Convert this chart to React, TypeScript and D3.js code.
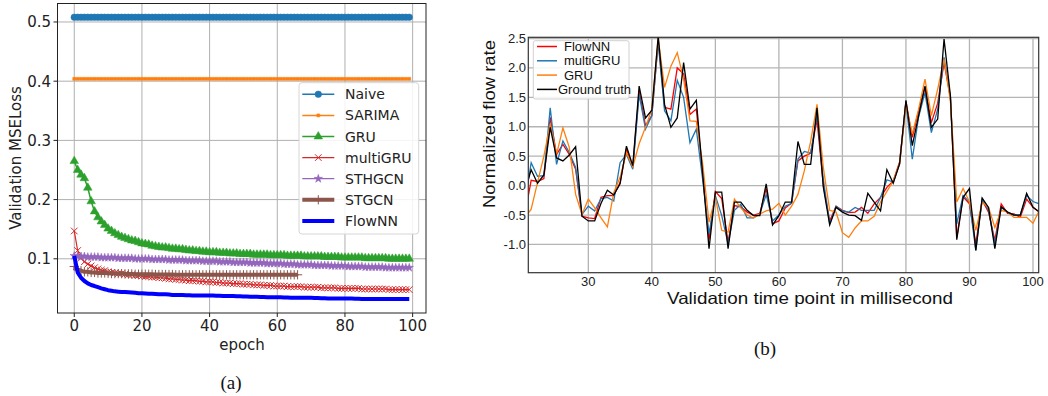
import React from "react";
import * as d3 from "d3";

// ---- (a) validation loss per epoch ----
const naive = [
  0.508, 0.508, 0.508, 0.508, 0.508, 0.508, 0.508, 0.508, 0.508, 0.508,
  0.508, 0.508, 0.508, 0.508, 0.508, 0.508, 0.508, 0.508, 0.508, 0.508,
  0.508, 0.508, 0.508, 0.508, 0.508, 0.508, 0.508, 0.508, 0.508, 0.508,
  0.508, 0.508, 0.508, 0.508, 0.508, 0.508, 0.508, 0.508, 0.508, 0.508,
  0.508, 0.508, 0.508, 0.508, 0.508, 0.508, 0.508, 0.508, 0.508, 0.508,
  0.508, 0.508, 0.508, 0.508, 0.508, 0.508, 0.508, 0.508, 0.508, 0.508,
  0.508, 0.508, 0.508, 0.508, 0.508, 0.508, 0.508, 0.508, 0.508, 0.508,
  0.508, 0.508, 0.508, 0.508, 0.508, 0.508, 0.508, 0.508, 0.508, 0.508,
  0.508, 0.508, 0.508, 0.508, 0.508, 0.508, 0.508, 0.508, 0.508, 0.508,
  0.508, 0.508, 0.508, 0.508, 0.508, 0.508, 0.508, 0.508, 0.508, 0.508,
];
const sarima = [
  0.404, 0.404, 0.404, 0.404, 0.404, 0.404, 0.404, 0.404, 0.404, 0.404,
  0.404, 0.404, 0.404, 0.404, 0.404, 0.404, 0.404, 0.404, 0.404, 0.404,
  0.404, 0.404, 0.404, 0.404, 0.404, 0.404, 0.404, 0.404, 0.404, 0.404,
  0.404, 0.404, 0.404, 0.404, 0.404, 0.404, 0.404, 0.404, 0.404, 0.404,
  0.404, 0.404, 0.404, 0.404, 0.404, 0.404, 0.404, 0.404, 0.404, 0.404,
  0.404, 0.404, 0.404, 0.404, 0.404, 0.404, 0.404, 0.404, 0.404, 0.404,
  0.404, 0.404, 0.404, 0.404, 0.404, 0.404, 0.404, 0.404, 0.404, 0.404,
  0.404, 0.404, 0.404, 0.404, 0.404, 0.404, 0.404, 0.404, 0.404, 0.404,
  0.404, 0.404, 0.404, 0.404, 0.404, 0.404, 0.404, 0.404, 0.404, 0.404,
  0.404, 0.404, 0.404, 0.404, 0.404, 0.404, 0.404, 0.404, 0.404, 0.404,
];
const gru = [
  0.265, 0.25, 0.242, 0.236, 0.22, 0.197, 0.18, 0.17, 0.163, 0.157,
  0.151, 0.147, 0.143, 0.14, 0.137, 0.135, 0.133, 0.131, 0.13, 0.128,
  0.126, 0.125, 0.124, 0.122, 0.121, 0.12, 0.119, 0.119, 0.118, 0.117,
  0.117, 0.116, 0.116, 0.115, 0.114, 0.114, 0.113, 0.113, 0.112, 0.112,
  0.111, 0.111, 0.111, 0.11, 0.11, 0.11, 0.109, 0.109, 0.109, 0.108,
  0.108, 0.108, 0.108, 0.107, 0.107, 0.107, 0.107, 0.107, 0.106, 0.106,
  0.106, 0.106, 0.106, 0.105, 0.105, 0.105, 0.105, 0.105, 0.104, 0.104,
  0.104, 0.104, 0.104, 0.104, 0.103, 0.103, 0.103, 0.103, 0.103, 0.102,
  0.102, 0.102, 0.102, 0.102, 0.102, 0.102, 0.101, 0.101, 0.101, 0.101,
  0.101, 0.101, 0.101, 0.1, 0.1, 0.1, 0.1, 0.1, 0.1, 0.1,
];
const multiGru = [
  0.147, 0.114, 0.101, 0.095, 0.091, 0.088, 0.085, 0.083, 0.081, 0.08,
  0.078, 0.077, 0.076, 0.075, 0.075, 0.074, 0.073, 0.073, 0.072, 0.072,
  0.071, 0.07, 0.07, 0.069, 0.069, 0.068, 0.068, 0.067, 0.066, 0.066,
  0.065, 0.065, 0.064, 0.064, 0.063, 0.063, 0.063, 0.062, 0.062, 0.061,
  0.061, 0.061, 0.06, 0.06, 0.059, 0.059, 0.059, 0.058, 0.058, 0.058,
  0.057, 0.057, 0.057, 0.056, 0.056, 0.056, 0.055, 0.055, 0.055, 0.054,
  0.054, 0.054, 0.054, 0.053, 0.053, 0.053, 0.053, 0.053, 0.052, 0.052,
  0.052, 0.052, 0.052, 0.051, 0.051, 0.051, 0.051, 0.051, 0.05, 0.05,
  0.05, 0.05, 0.05, 0.05, 0.05, 0.049, 0.049, 0.049, 0.049, 0.049,
  0.049, 0.049, 0.049, 0.048, 0.048, 0.048, 0.048, 0.048, 0.048, 0.048,
];
const sthgcn = [
  0.105, 0.104, 0.104, 0.104, 0.103, 0.103, 0.103, 0.103, 0.102, 0.102,
  0.102, 0.102, 0.102, 0.101, 0.101, 0.101, 0.101, 0.101, 0.1, 0.1,
  0.1, 0.1, 0.1, 0.099, 0.099, 0.099, 0.099, 0.099, 0.098, 0.098,
  0.098, 0.098, 0.098, 0.097, 0.097, 0.097, 0.097, 0.097, 0.096, 0.096,
  0.096, 0.096, 0.096, 0.095, 0.095, 0.095, 0.095, 0.094, 0.094, 0.094,
  0.094, 0.094, 0.093, 0.093, 0.093, 0.093, 0.093, 0.092, 0.092, 0.092,
  0.092, 0.092, 0.091, 0.091, 0.091, 0.091, 0.09, 0.09, 0.09, 0.09,
  0.09, 0.089, 0.089, 0.089, 0.089, 0.089, 0.088, 0.088, 0.088, 0.088,
  0.088, 0.087, 0.087, 0.087, 0.087, 0.087, 0.086, 0.086, 0.086, 0.086,
  0.086, 0.086, 0.085, 0.085, 0.085, 0.085, 0.085, 0.085, 0.085, 0.085,
];
const stgcn = [
  0.087, 0.082, 0.08, 0.078, 0.078, 0.077, 0.077, 0.076, 0.076, 0.076,
  0.0755, 0.075, 0.075, 0.075, 0.075, 0.0745, 0.0745, 0.0745, 0.074, 0.074,
  0.074, 0.074, 0.074, 0.074, 0.0735, 0.0735, 0.0735, 0.0735, 0.0735, 0.0735,
  0.073, 0.073, 0.073, 0.073, 0.073, 0.073, 0.073, 0.073, 0.073, 0.073,
  0.073, 0.073, 0.073, 0.073, 0.073, 0.073, 0.073, 0.073, 0.073, 0.073,
  0.073, 0.073, 0.073, 0.073, 0.073, 0.073, 0.073, 0.073, 0.073, 0.073,
  0.073, 0.073, 0.073, 0.073, 0.073, 0.073, 0.073,
];
const flowNN = [
  0.105, 0.077, 0.068, 0.0625, 0.0585, 0.0557, 0.054, 0.052, 0.05, 0.0485,
  0.047, 0.046, 0.045, 0.0445, 0.044, 0.044, 0.0435, 0.043, 0.0425, 0.042,
  0.042, 0.0415, 0.041, 0.041, 0.0405, 0.04, 0.04, 0.04, 0.0395, 0.039,
  0.039, 0.039, 0.0388, 0.0386, 0.0384, 0.0382, 0.038, 0.038, 0.038, 0.038,
  0.038, 0.0378, 0.0376, 0.0374, 0.0372, 0.037, 0.037, 0.037, 0.0368, 0.0366,
  0.0364, 0.0362, 0.036, 0.036, 0.0358, 0.0356, 0.0354, 0.0352, 0.035, 0.035,
  0.035, 0.035, 0.0348, 0.0346, 0.0344, 0.0342, 0.034, 0.034, 0.034, 0.034,
  0.034, 0.0338, 0.0336, 0.0334, 0.0332, 0.033, 0.033, 0.033, 0.033, 0.033,
  0.033, 0.033, 0.0328, 0.0326, 0.0324, 0.0322, 0.032, 0.032, 0.032, 0.032,
  0.032, 0.032, 0.032, 0.032, 0.032, 0.032, 0.032, 0.032, 0.032, 0.032,
];
const lossTicksX = [0, 20, 40, 60, 80, 100];
const lossTicksY = [0.1, 0.2, 0.3, 0.4, 0.5];

// ---- (b) normalized flow rate, time points 20..101 ----
const timeStart = 20;
const truth = [
  -0.1, 0.27, 0.04, 0.18, 0.99, 0.47, 0.42, 0.52, 0.66, -0.52,
  -0.6, -0.6, -0.3, -0.08, -0.16, 0.03, 0.67, 0.34, 1.69, 1.15,
  1.28, 2.54, 1.38, 0.99, 1.15, 2.09, 1.3, 1.45, 0.2, -1.07,
  -0.11, -0.11, -1.07, -0.28, -0.28, -0.42, -0.51, -0.51, 0.03, -0.67,
  -0.51, -0.28, -0.28, 0.75, 0.36, 0.36, 1.32, -0.03, -0.67, -0.37,
  -0.45, -0.5, -0.51, -0.59, -0.13, -0.28, -0.43, 0.27, 0.04, 0.37,
  1.45, 0.68, 1.19, 1.69, 0.99, 1.13, 2.49, 1.53, -0.92, -0.2,
  -0.05, -1.1, -0.21, -0.37, -1.07, -0.36, -0.45, -0.5, -0.5, -0.13,
  -0.37, -0.45,
];
const predFlowNN = [
  -0.5, 0.09, 0.07, 0.12, 1.16, 0.53, 0.7, 0.53, 0.28, -0.52,
  -0.55, -0.56, -0.2, -0.17, -0.17, 0.05, 0.62, 0.31, 1.61, 1.02,
  1.19, 2.46, 1.33, 1.3, 2.0, 1.9, 1.21, 1.3, 0.2, -0.92,
  -0.1, -0.22, -0.96, -0.34, -0.36, -0.45, -0.5, -0.47, -0.05, -0.65,
  -0.6, -0.38, -0.3, 0.42, 0.5, 0.55, 1.12, 0.0, -0.6, -0.35,
  -0.42, -0.46, -0.45, -0.37, -0.47, -0.31, -0.2, -0.03, 0.08, 0.4,
  1.43, 0.82, 1.27, 1.67, 1.07, 1.4, 2.09, 1.5, -0.88, -0.19,
  -0.31, -0.99, -0.25, -0.45, -0.93, -0.31, -0.47, -0.48, -0.54, -0.23,
  -0.37, -0.45,
];
const predMultiGru = [
  -0.3, 0.39, 0.16, 0.17, 1.32, 0.36, 0.76, 0.56, 0.31, -0.49,
  -0.35, -0.43, -0.22, -0.2, -0.26, 0.39, 0.53, 0.28, 1.55, 0.96,
  1.19, 2.43, 1.27, 1.1, 1.79, 1.5, 0.73, 0.96, 0.1, -0.82,
  -0.17, -0.51, -0.99, -0.42, -0.32, -0.55, -0.55, -0.48, -0.15, -0.6,
  -0.5, -0.35, -0.3, 0.45, 0.58, 0.55, 1.2, 0.1, -0.65, -0.35,
  -0.43, -0.45, -0.37, -0.42, -0.42, -0.42, -0.2, 0.1, 0.06, 0.37,
  1.41, 0.45, 1.17, 1.58, 0.9, 1.3, 2.18, 1.5, -0.65, -0.17,
  -0.28, -1.1, -0.23, -0.42, -0.99, -0.37, -0.45, -0.5, -0.5, -0.17,
  -0.27, -0.31,
];
const predGru = [
  -0.55, -0.4, 0.05, 0.5, 1.05, 0.53, 0.98, 0.65, -0.15, -0.49,
  -0.23, -0.38, -0.55, -0.7, -0.12, 0.14, 0.56, 0.32, 0.71, 0.99,
  1.3, 2.5, 1.67, 2.03, 2.26, 1.81, 1.1, 1.09, 0.37, -0.62,
  -0.2, -0.76, -0.79, -0.23, -0.38, -0.5, -0.55, -0.48, -0.43, -0.4,
  -0.3, -0.5, -0.35, -0.15, 0.25, 0.75, 1.38, 0.3, -0.42, -0.45,
  -0.8, -0.88, -0.72, -0.6, -0.6, -0.52, -0.28, -0.1, 0.08, 0.37,
  1.36, 0.88, 1.3, 1.81, 1.19, 1.64, 2.15, 1.44, -0.28, -0.05,
  -0.28, -0.76, -0.28, -0.37, -0.71, -0.42, -0.45, -0.54, -0.54, -0.54,
  -0.64, -0.42,
];
const flowTicksX = [30, 40, 50, 60, 70, 80, 90, 100];
const flowTicksY = [-1.0, -0.5, 0.0, 0.5, 1.0, 1.5, 2.0, 2.5];

const drawLoss = (svg) => {
  const x = d3.scaleLinear([-4.95, 103.95], [57.5, 426]);
  const y = d3.scaleLinear([0.00845, 0.5312], [313, 3.5]);
  const g = svg.append("g").attr("font-family", "DejaVu Sans, sans-serif");

  g.append("g").selectAll("line").data(lossTicksX).enter().append("line")
    .attr("x1", d => x(d)).attr("x2", d => x(d)).attr("y1", 3.5).attr("y2", 313)
    .attr("stroke", "#b0b0b0").attr("stroke-width", 1);
  g.append("g").selectAll("line").data(lossTicksY).enter().append("line")
    .attr("x1", 57.5).attr("x2", 426).attr("y1", d => y(d)).attr("y2", d => y(d))
    .attr("stroke", "#b0b0b0").attr("stroke-width", 1);

  const series = [
    { name: "Naive", data: naive, color: "#1f77b4", width: 1.5, sym: d3.symbolCircle, size: 34, filled: true },
    { name: "SARIMA", data: sarima, color: "#ff7f0e", width: 1.5, sym: d3.symbolSquare, size: 9, filled: true },
    { name: "GRU", data: gru, color: "#2ca02c", width: 1.5, sym: d3.symbolTriangle, size: 32, filled: true },
    { name: "multiGRU", data: multiGru, color: "#d62728", width: 1.2, sym: d3.symbolX, size: 30, filled: false },
    { name: "STHGCN", data: sthgcn, color: "#9467bd", width: 1.2, sym: d3.symbolStar, size: 22, filled: true },
    { name: "STGCN", data: stgcn, color: "#8c564b", width: 4, sym: d3.symbolPlus, size: 30, filled: false },
    { name: "FlowNN", data: flowNN, color: "#0000ff", width: 4, sym: null, size: 0, filled: true },
  ];
  const line = d3.line().x((d, i) => x(i)).y(d => y(d));
  for (const s of series) {
    g.append("path").attr("d", line(s.data)).attr("fill", "none")
      .attr("stroke", s.color).attr("stroke-width", s.width).attr("stroke-linejoin", "round");
    if (s.sym) {
      const p = d3.symbol().type(s.sym).size(s.size)();
      g.append("g").selectAll("path").data(s.data).enter().append("path")
        .attr("d", p).attr("transform", (d, i) => `translate(${x(i)},${y(d)})`)
        .attr("fill", s.filled ? s.color : "none")
        .attr("stroke", s.color).attr("stroke-width", s.filled ? 0.5 : 1);
    }
  }

  g.append("rect").attr("x", 57.5).attr("y", 3.5).attr("width", 368.5).attr("height", 309.5)
    .attr("fill", "none").attr("stroke", "#222").attr("stroke-width", 1);

  g.append("g").selectAll("line").data(lossTicksX).enter().append("line")
    .attr("x1", d => x(d)).attr("x2", d => x(d)).attr("y1", 313).attr("y2", 317)
    .attr("stroke", "#222");
  g.append("g").selectAll("text").data(lossTicksX).enter().append("text")
    .attr("x", d => x(d)).attr("y", 331).attr("text-anchor", "middle")
    .attr("font-size", 15).attr("fill", "#222").text(d => d);
  g.append("g").selectAll("line").data(lossTicksY).enter().append("line")
    .attr("x1", 53.5).attr("x2", 57.5).attr("y1", d => y(d)).attr("y2", d => y(d))
    .attr("stroke", "#222");
  g.append("g").selectAll("text").data(lossTicksY).enter().append("text")
    .attr("x", 51).attr("y", d => y(d) + 5.5).attr("text-anchor", "end")
    .attr("font-size", 15).attr("fill", "#222").text(d => d.toFixed(1));

  g.append("text").attr("x", 242).attr("y", 350).attr("text-anchor", "middle")
    .attr("font-size", 15).attr("fill", "#222").text("epoch");
  g.append("text").attr("transform", "translate(21,158) rotate(-90)")
    .attr("text-anchor", "middle").attr("font-size", 15).attr("fill", "#222")
    .text("Validation MSELoss");

  // legend
  const lg = g.append("g");
  lg.append("rect").attr("x", 299).attr("y", 82.7).attr("width", 119.7).attr("height", 151.3)
    .attr("rx", 3).attr("fill", "white").attr("fill-opacity", 0.85)
    .attr("stroke", "#d6d6d6").attr("stroke-width", 1);
  series.forEach((s, i) => {
    const cy = 94.3 + i * 21.1;
    lg.append("line").attr("x1", 302.3).attr("x2", 334.3).attr("y1", cy).attr("y2", cy)
      .attr("stroke", s.color).attr("stroke-width", s.width);
    if (s.sym) {
      lg.append("path").attr("d", d3.symbol().type(s.sym).size(s.size)())
        .attr("transform", `translate(318.3,${cy})`)
        .attr("fill", s.filled ? s.color : "none").attr("stroke", s.color)
        .attr("stroke-width", s.filled ? 0.5 : 1);
    }
    lg.append("text").attr("x", 345).attr("y", cy + 5).attr("font-size", 14)
      .attr("fill", "#222").text(s.name);
  });

  svg.append("text").attr("x", 231).attr("y", 389).attr("text-anchor", "middle")
    .attr("font-family", "Liberation Serif, serif").attr("font-size", 19)
    .attr("fill", "#111").text("(a)");
};

const drawFlow = (svg) => {
  const left = 528.3, right = 1038.7, top = 37.3, bottom = 272.7;
  const x = d3.scaleLinear([20.55, 100.9], [left, right]);
  const y = d3.scaleLinear([-1.48, 2.52], [bottom, top]);
  const g = svg.append("g").attr("font-family", "Liberation Sans, Arial, sans-serif");

  svg.append("defs").append("clipPath").attr("id", "flowclip")
    .append("rect").attr("x", left).attr("y", top)
    .attr("width", right - left).attr("height", bottom - top);

  g.append("g").selectAll("line").data(flowTicksX).enter().append("line")
    .attr("x1", d => x(d)).attr("x2", d => x(d)).attr("y1", top).attr("y2", bottom)
    .attr("stroke", "#b4b4b4").attr("stroke-width", 1.3);
  g.append("g").selectAll("line").data(flowTicksY).enter().append("line")
    .attr("x1", left).attr("x2", right).attr("y1", d => y(d)).attr("y2", d => y(d))
    .attr("stroke", "#b4b4b4").attr("stroke-width", 1.3);

  const series = [
    { name: "FlowNN", data: predFlowNN, color: "#ff0000" },
    { name: "multiGRU", data: predMultiGru, color: "#1f77b4" },
    { name: "GRU", data: predGru, color: "#ff7f0e" },
    { name: "Ground truth", data: truth, color: "#000000" },
  ];
  const line = d3.line().x((d, i) => x(timeStart + i)).y(d => y(d));
  const lines = g.append("g").attr("clip-path", "url(#flowclip)");
  for (const s of series) {
    lines.append("path").attr("d", line(s.data)).attr("fill", "none")
      .attr("stroke", s.color).attr("stroke-width", 1.3).attr("stroke-linejoin", "miter");
  }

  g.append("rect").attr("x", left).attr("y", top).attr("width", right - left)
    .attr("height", bottom - top).attr("fill", "none").attr("stroke", "#333")
    .attr("stroke-width", 1.2);

  g.append("g").selectAll("text").data(flowTicksX).enter().append("text")
    .attr("x", d => x(d)).attr("y", 286).attr("text-anchor", "middle")
    .attr("font-size", 13).attr("fill", "#222").text(d => d);
  g.append("g").selectAll("text").data(flowTicksY).enter().append("text")
    .attr("x", 526).attr("y", d => y(d) + 4.5).attr("text-anchor", "end")
    .attr("font-size", 13).attr("fill", "#222").text(d => d.toFixed(1));

  g.append("text").attr("x", 810).attr("y", 304).attr("text-anchor", "middle")
    .attr("font-size", 16.5).attr("textLength", 286).attr("lengthAdjust", "spacingAndGlyphs")
    .attr("fill", "#111").text("Validation time point in millisecond");
  g.append("text").attr("transform", "translate(495,124) rotate(-90)")
    .attr("text-anchor", "middle").attr("font-size", 16.5)
    .attr("textLength", 168).attr("lengthAdjust", "spacingAndGlyphs")
    .attr("fill", "#111").text("Normalized flow rate");

  const lg = g.append("g");
  lg.append("rect").attr("x", 533.3).attr("y", 40.7).attr("width", 95.7).attr("height", 58.3)
    .attr("rx", 2).attr("fill", "white").attr("fill-opacity", 0.85)
    .attr("stroke", "#d0d0d0").attr("stroke-width", 1);
  series.forEach((s, i) => {
    const cy = 46.5 + i * 14.3;
    lg.append("line").attr("x1", 537).attr("x2", 557).attr("y1", cy).attr("y2", cy)
      .attr("stroke", s.color).attr("stroke-width", 1.5);
    lg.append("text").attr("x", s.name === "Ground truth" ? 558 : 564).attr("y", cy + 4.5)
      .attr("font-size", 13).attr("fill", "#111").text(s.name);
  });

  svg.append("text").attr("x", 765).attr("y", 355).attr("text-anchor", "middle")
    .attr("font-family", "Liberation Serif, serif").attr("font-size", 19)
    .attr("fill", "#111").text("(b)");
};

const App = () => {
  const ref = React.useRef(null);

  React.useEffect(() => {
    const svg = d3.select(ref.current);
    svg.selectAll("*").remove();
    drawLoss(svg);
    drawFlow(svg);
  }, []);

  return (
    <svg ref={ref} width={1048} height={396}
      style={{ position: "absolute", left: 0, top: 0, background: "white" }} />
  );
};

export default App;
